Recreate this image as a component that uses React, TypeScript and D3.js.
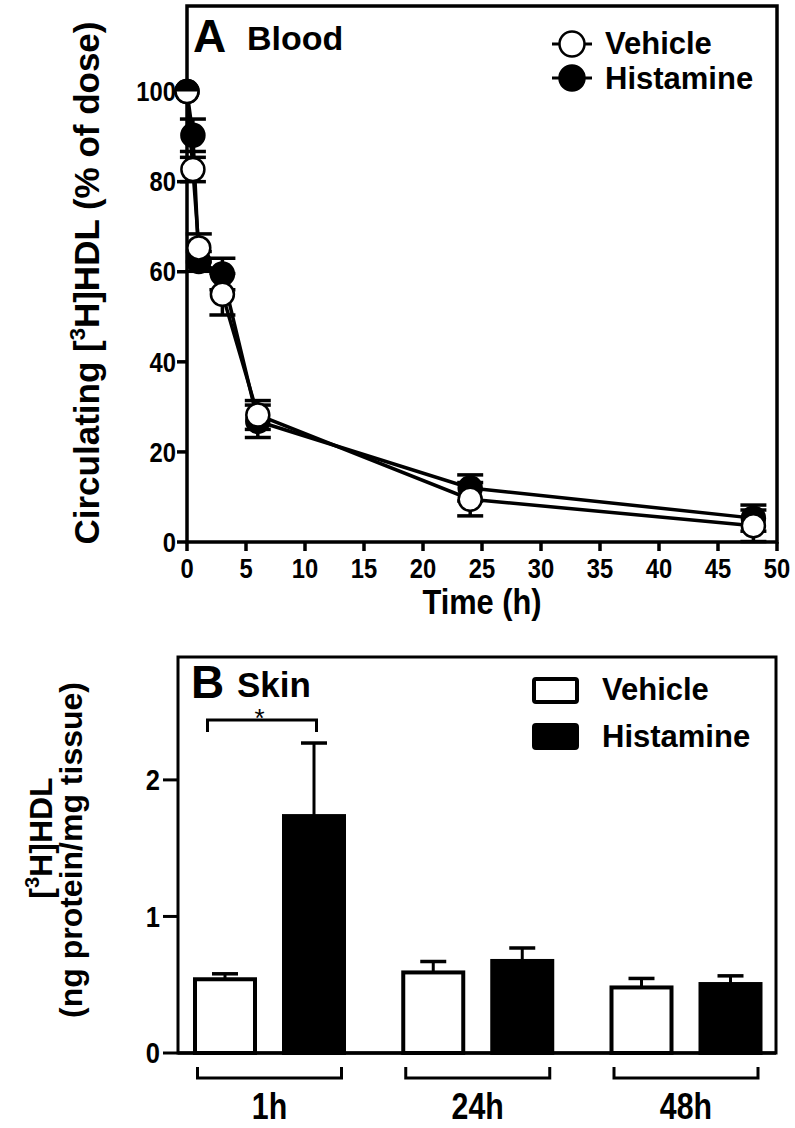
import React from 'react';
import * as d3 from 'd3';

// ---------- Panel A data: Blood ----------
const timeH = [0, 0.5, 1, 3, 6, 24, 48];
const vehicleMean = [100, 82.7, 65.3, 55, 28.2, 9.5, 3.6];
const vehicleSE = [0, 2.7, 3.1, 4.6, 3.2, 3.7, 3.5];
const histamineMean = [100, 90.3, 62.3, 59.5, 26.8, 12, 5.3];
const histamineSE = [0, 3.6, 2.2, 3.5, 3.6, 2.9, 2.9];
const xTicksA = [0, 5, 10, 15, 20, 25, 30, 35, 40, 45, 50];
const yTicksA = [0, 20, 40, 60, 80, 100];

// ---------- Panel B data: Skin ----------
const groupsB = ['1h', '24h', '48h'];
const skinVehicle = [0.54, 0.59, 0.48];
const skinVehicleSE = [0.04, 0.08, 0.066];
const skinHistamine = [1.735, 0.674, 0.505];
const skinHistamineSE = [0.535, 0.095, 0.06];
const yTicksB = [0, 1, 2];

const FONT = "'Liberation Sans', Arial, Helvetica, sans-serif";
const SX = 0.88; // horizontal squeeze to mimic the condensed tick font

export default function App() {
  const xA = d3.scaleLinear().domain([0, 50]).range([187, 777]);
  const yA = d3.scaleLinear().domain([0, 119]).range([542, 6]);
  const xB = d3.scalePoint<string>().domain(groupsB).range([269.5, 686]);
  const yB = d3.scaleLinear().domain([0, 2.9]).range([1053, 657]);
  const barOffset = 44.5;
  const barW = 60;

  const line = d3
    .line<number>()
    .x((_, i) => xA(timeH[i]))
    .y((d) => yA(d));

  const capA = 13;
  const rA = 11.5;
  const halfTop = d3.arc()({ innerRadius: 0, outerRadius: rA, startAngle: -Math.PI / 2, endAngle: Math.PI / 2 }) as string;

  const errA = (means: number[], ses: number[], key: string) =>
    means.map((m, i) => {
      if (!ses[i]) return null;
      const x = xA(timeH[i]);
      const y1 = yA(m + ses[i]);
      const y2 = yA(m - ses[i]);
      return (
        <g key={key + i} stroke="#000" strokeWidth={3.5}>
          <line x1={x} x2={x} y1={y1} y2={y2} />
          <line x1={x - capA} x2={x + capA} y1={y1} y2={y1} />
          <line x1={x - capA} x2={x + capA} y1={y2} y2={y2} />
        </g>
      );
    });

  const capB = 13;
  const sq = (x: number, y: number, s = SX) => `translate(${x},${y}) scale(${s},1)`;

  return (
    <svg
      width={795}
      height={1128}
      style={{ position: 'absolute', left: 0, top: 0, display: 'block', background: '#fff' }}
      fontFamily={FONT}
      fontWeight="bold"
    >
      <rect x={0} y={0} width={795} height={1128} fill="#fff" />
      {/* ================= Panel A ================= */}
      <rect x={xA(0)} y={yA(119)} width={xA(50) - xA(0)} height={yA(0) - yA(119)} fill="none" stroke="#000" strokeWidth={3.5} />
      {xTicksA.map((t) => (
        <g key={'xa' + t}>
          <line x1={xA(t)} x2={xA(t)} y1={yA(0)} y2={yA(0) + 9} stroke="#000" strokeWidth={3.5} />
          <text transform={sq(xA(t), yA(0) + 36)} textAnchor="middle" fontSize={27}>
            {t}
          </text>
        </g>
      ))}
      {yTicksA.map((t) => (
        <g key={'ya' + t}>
          <line x1={xA(0) - 10} x2={xA(0)} y1={yA(t)} y2={yA(t)} stroke="#000" strokeWidth={3.5} />
          <text transform={sq(xA(0) - 11, yA(t))} dy="0.36em" textAnchor="end" fontSize={27}>
            {t}
          </text>
        </g>
      ))}
      <text transform={sq((xA(0) + xA(50)) / 2, 614)} textAnchor="middle" fontSize={35}>
        Time (h)
      </text>
      <text transform={`translate(99, 283) rotate(-90)`} textAnchor="middle" fontSize={35}>
        Circulating [<tspan fontSize={22} dy={-14}>3</tspan>
        <tspan dy={14}>H]HDL (% of dose)</tspan>
      </text>
      <text x={193} y={52} fontSize={46}>A</text>
      <text x={247} y={50} fontSize={34}>Blood</text>

      <path d={line(histamineMean) as string} fill="none" stroke="#000" strokeWidth={3.5} />
      <path d={line(vehicleMean) as string} fill="none" stroke="#000" strokeWidth={3.5} />
      {errA(histamineMean, histamineSE, 'he')}
      {errA(vehicleMean, vehicleSE, 've')}
      {histamineMean.map((m, i) => (
        <circle key={'hm' + i} cx={xA(timeH[i])} cy={yA(m)} r={rA} fill="#000" stroke="#000" strokeWidth={2.5} />
      ))}
      {vehicleMean.map((m, i) => (
        <circle key={'vm' + i} cx={xA(timeH[i])} cy={yA(m)} r={rA} fill="#fff" stroke="#000" strokeWidth={2.5} />
      ))}
      {vehicleMean.map((m, i) =>
        m === histamineMean[i] ? (
          <path key={'ov' + i} d={halfTop} transform={`translate(${xA(timeH[i])},${yA(m)})`} fill="#000" />
        ) : null
      )}

      {/* legend A */}
      <g>
        <line x1={552} x2={592} y1={44} y2={44} stroke="#000" strokeWidth={3} />
        <circle cx={572} cy={44} r={12.5} fill="#fff" stroke="#000" strokeWidth={2.5} />
        <text x={605} y={54} fontSize={31}>Vehicle</text>
        <line x1={552} x2={592} y1={78} y2={78} stroke="#000" strokeWidth={3} />
        <circle cx={572} cy={78} r={12.5} fill="#000" stroke="#000" strokeWidth={2.5} />
        <text x={605} y={89} fontSize={31}>Histamine</text>
      </g>

      {/* ================= Panel B ================= */}
      <rect x={178} y={yB(2.9)} width={776 - 178} height={yB(0) - yB(2.9)} fill="none" stroke="#000" strokeWidth={3} />
      {yTicksB.map((t) => (
        <g key={'yb' + t}>
          <line x1={163} x2={178} y1={yB(t)} y2={yB(t)} stroke="#000" strokeWidth={3} />
          <text transform={sq(160, yB(t))} dy="0.36em" textAnchor="end" fontSize={29}>
            {t}
          </text>
        </g>
      ))}
      <text transform={`translate(52, 838) rotate(-90)`} textAnchor="middle" fontSize={32}>
        [<tspan fontSize={20} dy={-13}>3</tspan>
        <tspan dy={13}>H]HDL</tspan>
      </text>
      <text transform={`translate(82, 850) rotate(-90)`} textAnchor="middle" fontSize={32}>
        (ng protein/mg tissue)
      </text>
      <text x={191} y={698} fontSize={46}>B</text>
      <text x={237} y={697} fontSize={35}>Skin</text>

      {groupsB.map((g, i) => {
        const cx = xB(g) as number;
        const vx = cx - barOffset;
        const hx = cx + barOffset;
        const vTop = skinVehicle[i] + skinVehicleSE[i];
        const hTop = skinHistamine[i] + skinHistamineSE[i];
        return (
          <g key={'bar' + g}>
            <line x1={vx} x2={vx} y1={yB(skinVehicle[i])} y2={yB(vTop)} stroke="#000" strokeWidth={3} />
            <line x1={vx - capB} x2={vx + capB} y1={yB(vTop)} y2={yB(vTop)} stroke="#000" strokeWidth={3.5} />
            <rect x={vx - barW / 2} y={yB(skinVehicle[i])} width={barW} height={yB(0) - yB(skinVehicle[i])} fill="#fff" stroke="#000" strokeWidth={4} />
            <line x1={hx} x2={hx} y1={yB(skinHistamine[i])} y2={yB(hTop)} stroke="#000" strokeWidth={3} />
            <line x1={hx - capB} x2={hx + capB} y1={yB(hTop)} y2={yB(hTop)} stroke="#000" strokeWidth={3.5} />
            <rect x={hx - barW / 2} y={yB(skinHistamine[i])} width={barW} height={yB(0) - yB(skinHistamine[i])} fill="#000" stroke="#000" strokeWidth={4} />
            <path d={`M${cx - 72},1067 V1078 H${cx + 72} V1067`} fill="none" stroke="#000" strokeWidth={3} />
            <text transform={sq(cx, 1119, 0.82)} textAnchor="middle" fontSize={37}>
              {g}
            </text>
          </g>
        );
      })}
      <line x1={178} x2={776} y1={yB(0)} y2={yB(0)} stroke="#000" strokeWidth={3.5} />

      {(() => {
        const cx = xB('1h') as number;
        return (
          <g>
            <path d={`M${cx - 62},732 V720 H${cx + 47} V732`} fill="none" stroke="#000" strokeWidth={3} />
            <text x={cx - 10} y={727} textAnchor="middle" fontSize={26} fontWeight="normal">*</text>
          </g>
        );
      })()}

      {/* legend B */}
      <rect x={534} y={679} width={43} height={23} rx={2} fill="#fff" stroke="#000" strokeWidth={4} />
      <text x={602} y={700} fontSize={31}>Vehicle</text>
      <rect x={534} y={725} width={43} height={23} rx={2} fill="#000" stroke="#000" strokeWidth={4} />
      <text x={602} y={747} fontSize={31}>Histamine</text>
    </svg>
  );
}
